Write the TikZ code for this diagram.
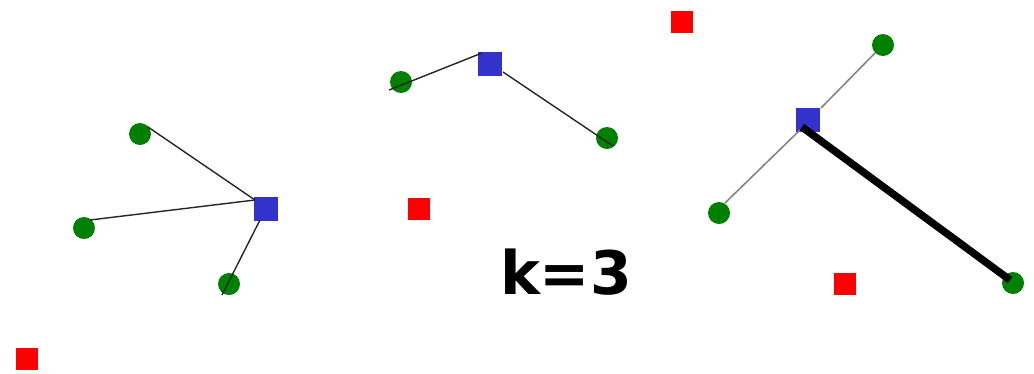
\documentclass[tikz,border=0pt]{standalone}
\usepackage{fontspec}
\newfontfamily\kfont{DejaVu Sans}
\definecolor{cblue}{RGB}{51,51,204}
\definecolor{cgreen}{RGB}{0,128,0}
\definecolor{cred}{RGB}{255,0,0}
\begin{document}
\begin{tikzpicture}[x=1pt,y=-1pt,
  center/.style={rectangle,fill=cblue,minimum size=24pt,inner sep=0pt},
  pt/.style={circle,fill=cgreen,minimum size=22pt,inner sep=0pt},
  cand/.style={rectangle,fill=cred,minimum size=22pt,inner sep=0pt},
  thinlink/.style={draw=black!85,line width=1.4pt},
  greylink/.style={draw=black!50,line width=1.5pt},
  boldlink/.style={draw=black,line width=7.5pt}]
\useasboundingbox[fill=white] (0,0) rectangle (1034,373);
% red squares
\node[cand] (r1) at (682,22) {};
\node[cand] (r2) at (419,209) {};
\node[cand] (r3) at (845,284) {};
\node[cand] (r4) at (27,359) {};
% left cluster
\node[center] (b1) at (266,209) {};
\node[pt] (g1) at (140,134) {};
\node[pt] (g2) at (84,228) {};
\node[pt] (g3) at (229,284) {};
% middle cluster
\node[center] (b2) at (490,64) {};
\node[pt] (g4) at (401,82) {};
\node[pt] (g5) at (607,138) {};
% right cluster
\node[center] (b3) at (808,120) {};
\node[pt] (g6) at (883,45) {};
\node[pt] (g7) at (719,213) {};
\node[pt] (g8) at (1013,283) {};
% label
\node[font=\kfont\bfseries\fontsize{60}{66}\selectfont,inner sep=0pt] (k) at (566,272) {k=3};
% connectors
\draw[thinlink] ([shift={(8,-7)}]g1.center) -- ([shift={(-11,-9)}]b1.center);
\draw[thinlink] ([shift={(6,-8)}]g2.center) -- ([shift={(-11,-9)}]b1.center);
\draw[thinlink] ([shift={(-6,11)}]b1.center) -- ([shift={(-7,11)}]g3.center);
\draw[thinlink] ([shift={(-12,8)}]g4.center) -- ([shift={(-8,-11)}]b2.center);
\draw[thinlink] ([shift={(13,8)}]b2.center) -- ([shift={(6,8)}]g5.center);
\draw[greylink] ([shift={(-8,8)}]g6.center) -- ([shift={(13,-12)}]b3.center);
\draw[greylink] ([shift={(6,-10)}]g7.center) -- ([shift={(-8,10)}]b3.center);
\draw[boldlink] ([shift={(-6,7)}]b3.center) -- ([shift={(-3,-3)}]g8.center);
\end{tikzpicture}
\end{document}
